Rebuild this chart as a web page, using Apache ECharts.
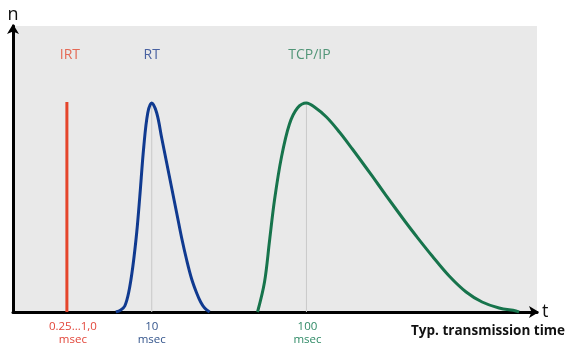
<!DOCTYPE html>
<html>
<head>
<meta charset="utf-8">
<script src="https://cdn.jsdelivr.net/npm/echarts@6/dist/echarts.min.js"></script>
<style>html,body{margin:0;padding:0;background:#fff;}#c{width:571px;height:360px;}</style>
</head>
<body>
<div id="c"></div>
<script>
// Schematic units (arbitrary time / count units)
const irtX = [54, 54];
const irtY = [0, 210];
const rtX = [103, 108, 112, 116, 120, 124, 127, 131, 135, 139, 144, 149, 154, 159, 164, 169, 174, 179, 184, 188, 192, 197];
const rtY = [0, 2, 6, 20, 45, 80, 115, 165, 199, 209, 199, 174, 149, 124, 99, 74, 52, 33, 19, 10, 4, 0];
const tcpX = [245, 252, 257, 262, 269, 277, 285, 294, 302, 314, 327, 340, 354, 367, 380, 394, 404, 420, 437, 454, 470, 487, 504, 507];
const tcpY = [0, 30, 71, 112, 155, 188, 204, 209, 205, 195, 180, 163, 144, 126, 108, 89, 76, 56, 36, 20, 10, 4, 1, 0];
const guideX = [139, 294];
const guideTop = [209, 209];
const seriesNames = ['IRT', 'RT', 'TCP/IP'];
const seriesNameX = [57, 139, 297];
const seriesNameY = [257, 257, 257];
const tickValues = [60, 139, 295];
const tickLabels = ['0.25...1,0', '10', '100'];
const tickUnit = 'msec';
const colors = ['#e5452b', '#103a90', '#17744c'];
const titleColors = ['#e4492f', '#1f3f8f', '#2a7f5a'];
const labelColors = ['#e2463a', '#34558c', '#2f8a66'];

const zip = (xs, ys) => xs.map((x, i) => [x, ys[i]]);
const FONT = '"Open Sans", "Noto Sans", sans-serif';

const chart = echarts.init(document.getElementById('c'), null, {renderer: 'canvas'});
const series = [];
guideX.forEach((gx, i) => {
  series.push({
    type: 'line', data: [[gx, 0], [gx, guideTop[i]]], symbol: 'none', silent: true, z: 1,
    lineStyle: {color: '#c9c9c9', width: 1}
  });
});
series.push({
  name: 'IRT', type: 'line', data: zip(irtX, irtY), symbol: 'none', z: 3,
  lineStyle: {color: colors[0], width: 3}
});
series.push({
  name: 'RT', type: 'line', data: zip(rtX, rtY), symbol: 'none', smooth: 0.35, z: 3,
  lineStyle: {color: colors[1], width: 3}
});
series.push({
  name: 'TCP/IP', type: 'line', data: zip(tcpX, tcpY), symbol: 'none', smooth: 0.35, z: 3,
  lineStyle: {color: colors[2], width: 3}
});
seriesNames.forEach((nm, i) => {
  series.push({
    type: 'scatter', silent: true, z: 4, symbolSize: 1, itemStyle: {color: 'rgba(0,0,0,0)'},
    data: [[seriesNameX[i], seriesNameY[i]]],
    label: {show: true, position: 'inside', formatter: nm, color: titleColors[i], fontFamily: FONT, fontSize: 14}
  });
});

chart.setOption({
  animation: false,
  backgroundColor: '#ffffff',
  grid: {left: 13, right: 34, top: 26, bottom: 48, show: true, backgroundColor: '#e9e9e9', borderWidth: 0},
  xAxis: {
    type: 'value', min: 0, max: 525,
    name: 't', nameLocation: 'end', nameGap: 5,
    nameTextStyle: {fontFamily: FONT, fontSize: 18, color: '#111', verticalAlign: 'middle'},
    axisLine: {show: true, onZero: false, lineStyle: {color: '#000', width: 3}, symbol: ['none', 'arrow'], symbolSize: [9, 10], symbolOffset: [0, 2]},
    axisTick: {show: false},
    splitLine: {show: false},
    axisLabel: {
      show: true, customValues: tickValues, margin: 8, lineHeight: 13,
      fontFamily: FONT, fontSize: 11.5,
      formatter: (v) => {
        const i = tickValues.indexOf(v);
        return '{c' + i + '|' + tickLabels[i] + '}\n{c' + i + '|' + tickUnit + '}';
      },
      rich: {
        c0: {color: labelColors[0], fontFamily: FONT, fontSize: 11.5, lineHeight: 13},
        c1: {color: labelColors[1], fontFamily: FONT, fontSize: 11.5, lineHeight: 13},
        c2: {color: labelColors[2], fontFamily: FONT, fontSize: 11.5, lineHeight: 13}
      }
    }
  },
  yAxis: {
    type: 'value', min: 0, max: 286,
    name: 'n', nameLocation: 'end', nameGap: 2,
    nameTextStyle: {fontFamily: FONT, fontSize: 18, color: '#111', align: 'center'},
    axisLine: {show: true, onZero: false, lineStyle: {color: '#000', width: 3}, symbol: ['none', 'arrow'], symbolSize: [9, 10], symbolOffset: [0, 2]},
    axisTick: {show: false},
    axisLabel: {show: false},
    splitLine: {show: false}
  },
  graphic: [{
    type: 'text', right: 6, top: 324,
    style: {text: 'Typ. transmission time', fontFamily: FONT, fontSize: 13.5, fontWeight: 'bold', fill: '#111'}
  }],
  series: series
});
</script>
</body>
</html>
